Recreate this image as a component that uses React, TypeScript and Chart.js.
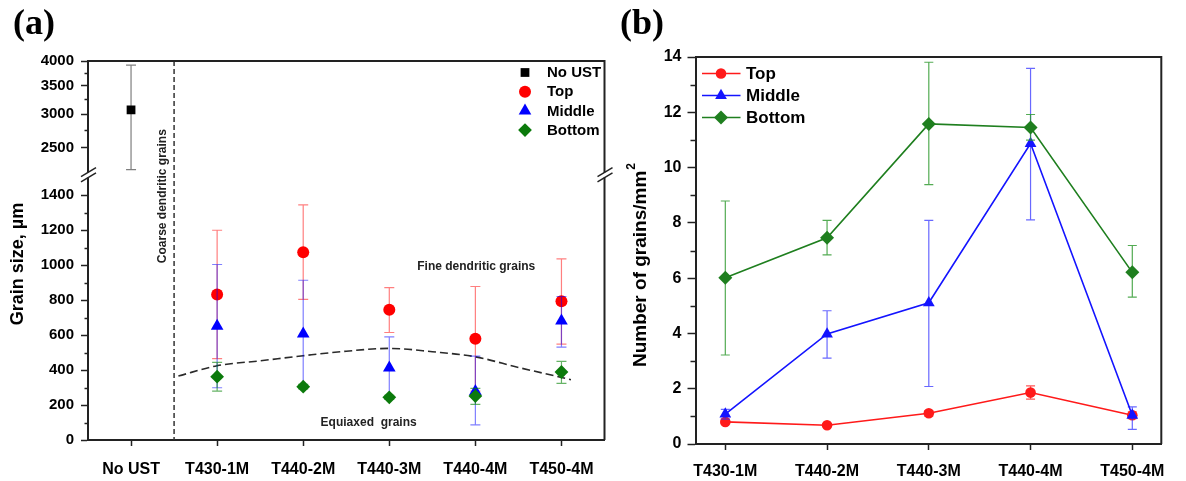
import React, { useEffect, useRef } from "react";
import { Chart, registerables } from "chart.js";

Chart.register(...registerables);

const FONT = "'Liberation Sans', Arial, Helvetica, sans-serif";
const SERIF = "'Liberation Serif', 'Times New Roman', serif";

// ---------------- Panel (a): grain size, µm ----------------
const categoriesA = ["No UST", "T430-1M", "T440-2M", "T440-3M", "T440-4M", "T450-4M"];
const noUstSize = [3067];
const noUstLow = [2218];
const noUstHigh = [3913];
const topSize = [832, 1074, 745, 579, 794];
const topSizeLow = [465, 804, 615, 280, 549];
const topSizeHigh = [1200, 1345, 872, 878, 1036];
const middleSize = [652, 607, 413, 278, 682];
const middleSizeLow = [299, 300, 240, 86, 531];
const middleSizeHigh = [1004, 914, 590, 480, 821];
const bottomSize = [362, 305, 244, 251, 389];
const bottomSizeLow = [280, 292, 232, 204, 324];
const bottomSizeHigh = [444, 318, 256, 295, 450];
const boundaryPos = [0.55, 1, 1.5, 2, 2.5, 3, 3.5, 4, 4.5, 5, 5.11];
const boundarySize = [366, 425, 453, 482, 508, 524, 505, 476, 415, 358, 345];
const lowerTicksA = [0, 200, 400, 600, 800, 1000, 1200, 1400];
const lowerMinorA = [100, 300, 500, 700, 900, 1100, 1300];
const upperTicksA = [2500, 3000, 3500, 4000];
const upperMinorA = [2750, 3250, 3750];

// ---------------- Panel (b): number of grains / mm² ----------------
const categoriesB = ["T430-1M", "T440-2M", "T440-3M", "T440-4M", "T450-4M"];
const topCount = [0.8, 0.68, 1.11, 1.86, 1.04];
const topCountLow = [0.74, 0.63, 1.01, 1.62, 0.92];
const topCountHigh = [0.86, 0.73, 1.21, 2.1, 1.16];
const middleCount = [1.08, 3.98, 5.11, 10.87, 1.04];
const middleCountLow = [0.9, 3.11, 2.08, 8.11, 0.53];
const middleCountHigh = [1.25, 4.82, 8.09, 13.59, 1.34];
const bottomCount = [6.01, 7.46, 11.58, 11.45, 6.21];
const bottomCountLow = [3.22, 6.84, 9.38, 10.99, 5.31];
const bottomCountHigh = [8.79, 8.09, 13.81, 11.92, 7.18];
const ticksB = [0, 2, 4, 6, 8, 10, 12, 14];
const minorB = [1, 3, 5, 7, 9, 11, 13];

const RED = "#ff0000";
const BLUE = "#0000ff";
const GREEN = "#0b7a0b";
const AXIS = "#222222";

function drawMarker(ctx: CanvasRenderingContext2D, style: string, x: number, y: number, r: number, color: string) {
  ctx.save();
  ctx.fillStyle = color;
  ctx.beginPath();
  if (style === "circle") {
    ctx.arc(x, y, r, 0, Math.PI * 2);
  } else if (style === "rect") {
    const h = r * Math.SQRT1_2;
    ctx.rect(x - h, y - h, 2 * h, 2 * h);
  } else if (style === "triangle") {
    for (let k = 0; k < 3; k++) {
      const a = (k * 2 * Math.PI) / 3;
      const px = x + Math.sin(a) * r;
      const py = y - Math.cos(a) * r;
      if (k === 0) ctx.moveTo(px, py);
      else ctx.lineTo(px, py);
    }
    ctx.closePath();
  } else {
    ctx.moveTo(x, y - r);
    ctx.lineTo(x + r, y);
    ctx.lineTo(x, y + r);
    ctx.lineTo(x - r, y);
    ctx.closePath();
  }
  ctx.fill();
  ctx.restore();
}

const errorBarPlugin = {
  id: "errorBars",
  beforeDatasetDraw(chart: any, args: any) {
    const ds = chart.data.datasets[args.index];
    const eb = ds.errorBars;
    if (!eb) return;
    const meta = chart.getDatasetMeta(args.index);
    const yScale = chart.scales[meta.yAxisID];
    const ctx = chart.ctx as CanvasRenderingContext2D;
    ctx.save();
    ctx.strokeStyle = eb.color;
    ctx.lineWidth = eb.width || 1.2;
    meta.data.forEach((pt: any, i: number) => {
      const x = pt.x;
      const yl = yScale.getPixelForValue(eb.low[i]);
      const yh = yScale.getPixelForValue(eb.high[i]);
      const c = eb.cap || 4;
      ctx.beginPath();
      ctx.moveTo(x, yl);
      ctx.lineTo(x, yh);
      ctx.moveTo(x - c, yl);
      ctx.lineTo(x + c, yl);
      ctx.moveTo(x - c, yh);
      ctx.lineTo(x + c, yh);
      ctx.stroke();
    });
    ctx.restore();
  },
};

function drawBreak(ctx: CanvasRenderingContext2D, x: number, y: number) {
  ctx.save();
  ctx.fillStyle = "#ffffff";
  ctx.fillRect(x - 3, y - 2.5, 6, 5);
  ctx.strokeStyle = AXIS;
  ctx.lineWidth = 1.5;
  for (const d of [-2.6, 2.6]) {
    ctx.beginPath();
    ctx.moveTo(x - 7, y + d + 4.2);
    ctx.lineTo(x + 8, y + d - 4.8);
    ctx.stroke();
  }
  ctx.restore();
}

function drawMinorTicks(ctx: CanvasRenderingContext2D, scale: any, values: number[], x: number, len: number) {
  ctx.save();
  ctx.strokeStyle = AXIS;
  ctx.lineWidth = 1.5;
  for (const v of values) {
    const y = Math.round(scale.getPixelForValue(v)) + 0.5;
    ctx.beginPath();
    ctx.moveTo(x - len, y);
    ctx.lineTo(x, y);
    ctx.stroke();
  }
  ctx.restore();
}

function drawFrame(ctx: CanvasRenderingContext2D, ca: any) {
  ctx.save();
  ctx.strokeStyle = AXIS;
  ctx.lineWidth = 2;
  ctx.beginPath();
  ctx.moveTo(ca.left, ca.top);
  ctx.lineTo(ca.right, ca.top);
  ctx.lineTo(ca.right, ca.bottom);
  ctx.stroke();
  ctx.restore();
}

const panelAPlugin = {
  id: "panelA",
  beforeDatasetsDraw(chart: any) {
    const { ctx, chartArea: ca, scales } = chart;
    const xs = scales.x;
    const yl = scales.yLow;
    const xd = xs.getPixelForValue(0.5);
    ctx.save();
    ctx.setLineDash([5, 3]);
    ctx.strokeStyle = "#333";
    ctx.lineWidth = 1.5;
    ctx.beginPath();
    ctx.moveTo(xd, ca.top);
    ctx.lineTo(xd, ca.bottom);
    ctx.stroke();
    ctx.setLineDash([]);
    ctx.fillStyle = "#222";
    ctx.font = `bold 12px ${FONT}`;
    ctx.textAlign = "center";
    ctx.textBaseline = "middle";
    ctx.fillText("Fine dendritic grains", xs.getPixelForValue(4.01), yl.getPixelForValue(990));
    ctx.fillText("Equiaxed  grains", xs.getPixelForValue(2.76), yl.getPixelForValue(97));
    ctx.save();
    ctx.translate(xs.getPixelForValue(0.37), yl.getPixelForValue(1395));
    ctx.rotate(-Math.PI / 2);
    ctx.fillText("Coarse dendritic grains", 0, 0);
    ctx.restore();
    ctx.restore();
  },
  afterDraw(chart: any) {
    const { ctx, chartArea: ca, scales } = chart;
    drawFrame(ctx, ca);
    drawMinorTicks(ctx, scales.yLow, lowerMinorA, ca.left, 3.5);
    drawMinorTicks(ctx, scales.yHigh, upperMinorA, ca.left, 3.5);
    const yb = scales.yHigh.bottom;
    drawBreak(ctx, ca.left, yb);
    drawBreak(ctx, ca.right, yb);
    // legend
    ctx.save();
    ctx.font = `bold 15px ${FONT}`;
    ctx.fillStyle = "#000";
    ctx.textAlign = "left";
    ctx.textBaseline = "middle";
    let row = 0;
    chart.data.datasets.forEach((ds: any) => {
      if (!ds.inLegend) return;
      const y = ca.top + 11.5 + row * 19.2;
      drawMarker(ctx, ds.pointStyle, ca.right - 79.5, y, ds.pointRadius, ds.backgroundColor);
      ctx.fillText(ds.label, ca.right - 57.5, y + 0.5);
      row++;
    });
    // axis title
    ctx.font = `bold 18px ${FONT}`;
    ctx.textAlign = "center";
    ctx.translate(18, 264);
    ctx.rotate(-Math.PI / 2);
    ctx.fillText("Grain size, \u00b5m", 0, 0);
    ctx.restore();
    ctx.save();
    ctx.font = `bold 36px ${SERIF}`;
    ctx.fillStyle = "#000";
    ctx.textBaseline = "middle";
    ctx.textAlign = "left";
    ctx.fillText("(a)", 13, 25);
    ctx.restore();
  },
};

const panelBPlugin = {
  id: "panelB",
  afterDraw(chart: any) {
    const { ctx, chartArea: ca, scales } = chart;
    drawFrame(ctx, ca);
    drawMinorTicks(ctx, scales.y, minorB, ca.left, 5);
    ctx.save();
    ctx.font = `bold 17px ${FONT}`;
    ctx.textAlign = "left";
    ctx.textBaseline = "middle";
    let row = 0;
    chart.data.datasets.forEach((ds: any) => {
      const y = ca.top + 16.5 + row * 22;
      ctx.strokeStyle = ds.borderColor;
      ctx.lineWidth = 1.5;
      ctx.beginPath();
      ctx.moveTo(ca.left + 6.5, y);
      ctx.lineTo(ca.left + 45, y);
      ctx.stroke();
      drawMarker(ctx, ds.pointStyle, ca.left + 25.5, y, ds.pointRadius, ds.backgroundColor);
      ctx.fillStyle = "#000";
      ctx.fillText(ds.label, ca.left + 50.5, y + 0.5);
      row++;
    });
    // axis title with superscript
    ctx.translate(31, 265);
    ctx.rotate(-Math.PI / 2);
    ctx.font = `bold 19px ${FONT}`;
    const main = "Number of grains/mm";
    const wMain = ctx.measureText(main).width;
    ctx.font = `bold 12px ${FONT}`;
    const wSup = ctx.measureText("2").width;
    const start = -(wMain + wSup + 1) / 2;
    ctx.font = `bold 19px ${FONT}`;
    ctx.fillText(main, start, 0);
    ctx.font = `bold 12px ${FONT}`;
    ctx.fillText("2", start + wMain + 1, -9);
    ctx.restore();
    ctx.save();
    ctx.font = `bold 36px ${SERIF}`;
    ctx.fillStyle = "#000";
    ctx.textBaseline = "middle";
    ctx.fillText("(b)", 10, 25);
    ctx.restore();
  },
};

const tickFont = (size: number) => ({ family: FONT, size, weight: "bold" as const });

function configA(): any {
  return {
    type: "scatter",
    data: {
      datasets: [
        {
          label: "No UST",
          inLegend: true,
          data: noUstSize.map((v) => ({ x: 0, y: v })),
          yAxisID: "yHigh",
          pointStyle: "rect",
          pointRadius: 6.2,
          backgroundColor: "#000000",
          borderWidth: 0,
          errorBars: { low: noUstLow, high: noUstHigh, color: "rgba(0,0,0,0.5)", cap: 5 },
          order: 4,
        },
        {
          label: "Top",
          inLegend: true,
          data: topSize.map((v, i) => ({ x: i + 1, y: v })),
          yAxisID: "yLow",
          pointStyle: "circle",
          pointRadius: 6,
          backgroundColor: RED,
          borderWidth: 0,
          errorBars: { low: topSizeLow, high: topSizeHigh, color: "rgba(255,0,0,0.5)", cap: 5 },
          order: 3,
        },
        {
          label: "Middle",
          inLegend: true,
          data: middleSize.map((v, i) => ({ x: i + 1, y: v })),
          yAxisID: "yLow",
          pointStyle: "triangle",
          pointRadius: 7.3,
          backgroundColor: BLUE,
          borderWidth: 0,
          errorBars: { low: middleSizeLow, high: middleSizeHigh, color: "rgba(0,0,255,0.5)", cap: 5 },
          order: 2,
        },
        {
          label: "Bottom",
          inLegend: true,
          data: bottomSize.map((v, i) => ({ x: i + 1, y: v })),
          yAxisID: "yLow",
          pointStyle: "rectRot",
          pointRadius: 6.9,
          backgroundColor: GREEN,
          borderWidth: 0,
          errorBars: { low: bottomSizeLow, high: bottomSizeHigh, color: "rgba(0,128,0,0.6)", cap: 5 },
          order: 1,
        },
        {
          label: "boundary",
          type: "line",
          data: boundaryPos.map((p, i) => ({ x: p, y: boundarySize[i] })),
          yAxisID: "yLow",
          showLine: true,
          borderColor: "#2a2a2a",
          borderWidth: 1.6,
          borderDash: [8, 4],
          pointRadius: 0,
          tension: 0.4,
          cubicInterpolationMode: "monotone",
          fill: false,
          order: 10,
        },
      ],
    },
    options: {
      animation: false,
      responsive: false,
      events: [],
      layout: { padding: { top: 61, right: 11.5, left: 0, bottom: 0 } },
      plugins: { legend: { display: false }, tooltip: { enabled: false } },
      scales: {
        x: {
          type: "linear",
          min: -0.5,
          max: 5.5,
          afterBuildTicks: (s: any) => {
            s.ticks = categoriesA.map((_, i) => ({ value: i }));
          },
          afterFit: (s: any) => {
            s.height = 41;
          },
          ticks: {
            callback: (v: number) => categoriesA[v] ?? "",
            font: tickFont(16),
            color: "#000",
            padding: 14,
            maxRotation: 0,
            autoSkip: false,
          },
          grid: { drawOnChartArea: false, drawTicks: true, tickLength: 6, color: AXIS, tickWidth: 1.5 },
          border: { display: true, color: AXIS, width: 2 },
        },
        yLow: {
          type: "linear",
          position: "left",
          stack: "grain",
          stackWeight: 265,
          min: 0,
          max: 1516,
          afterBuildTicks: (s: any) => {
            s.ticks = lowerTicksA.map((v) => ({ value: v }));
          },
          afterFit: (s: any) => {
            s.width = 88;
          },
          ticks: { callback: (v: number) => String(v), font: tickFont(15), color: "#000", padding: 7, autoSkip: false },
          grid: { drawOnChartArea: false, drawTicks: true, tickLength: 7, color: AXIS, tickWidth: 1.5 },
          border: { display: true, color: AXIS, width: 2 },
        },
        yHigh: {
          type: "logarithmic",
          position: "left",
          stack: "grain",
          stackWeight: 114,
          min: 2155,
          max: 4000,
          afterBuildTicks: (s: any) => {
            s.ticks = upperTicksA.map((v) => ({ value: v }));
          },
          afterFit: (s: any) => {
            s.width = 88;
          },
          ticks: { callback: (v: number) => String(v), font: tickFont(15), color: "#000", padding: 7, autoSkip: false },
          grid: { drawOnChartArea: false, drawTicks: true, tickLength: 7, color: AXIS, tickWidth: 1.5 },
          border: { display: true, color: AXIS, width: 2 },
        },
      },
    },
    plugins: [errorBarPlugin, panelAPlugin],
  };
}

function configB(): any {
  const mk = (label: string, vals: number[], lo: number[], hi: number[], color: string, errColor: string, style: string, r: number, order: number) => ({
    label,
    data: vals.map((v, i) => ({ x: i, y: v })),
    showLine: true,
    borderColor: color,
    borderWidth: 1.6,
    backgroundColor: color,
    pointStyle: style,
    pointRadius: r,
    pointBorderWidth: 0,
    errorBars: { low: lo, high: hi, color: errColor, cap: 4.5 },
    order,
  });
  return {
    type: "scatter",
    data: {
      datasets: [
        mk("Top", topCount, topCountLow, topCountHigh, "#ff1a1a", "rgba(255,30,30,0.75)", "circle", 5.3, 3),
        mk("Middle", middleCount, middleCountLow, middleCountHigh, "#1414ff", "rgba(40,40,255,0.7)", "triangle", 6.8, 2),
        mk("Bottom", bottomCount, bottomCountLow, bottomCountHigh, "#1f7f1f", "rgba(40,150,40,0.8)", "rectRot", 7, 1),
      ],
    },
    options: {
      animation: false,
      responsive: false,
      events: [],
      layout: { padding: { top: 57, right: 24.7, left: 0, bottom: 0 } },
      plugins: { legend: { display: false }, tooltip: { enabled: false } },
      scales: {
        x: {
          type: "linear",
          min: -0.293,
          max: 4.285,
          afterBuildTicks: (s: any) => {
            s.ticks = categoriesB.map((_, i) => ({ value: i }));
          },
          afterFit: (s: any) => {
            s.height = 37;
          },
          ticks: {
            callback: (v: number) => categoriesB[v] ?? "",
            font: tickFont(16),
            color: "#000",
            padding: 12,
            maxRotation: 0,
            autoSkip: false,
          },
          grid: { drawOnChartArea: false, drawTicks: true, tickLength: 6, color: AXIS, tickWidth: 1.5 },
          border: { display: true, color: AXIS, width: 2 },
        },
        y: {
          type: "linear",
          min: 0,
          max: 14,
          afterBuildTicks: (s: any) => {
            s.ticks = ticksB.map((v) => ({ value: v }));
          },
          afterFit: (s: any) => {
            s.width = 85.5;
          },
          ticks: { callback: (v: number) => String(v), font: tickFont(16), color: "#000", padding: 6, autoSkip: false },
          grid: { drawOnChartArea: false, drawTicks: true, tickLength: 8, color: AXIS, tickWidth: 1.5 },
          border: { display: true, color: AXIS, width: 2 },
        },
      },
    },
    plugins: [errorBarPlugin, panelBPlugin],
  };
}

export default function App() {
  const refA = useRef<HTMLCanvasElement>(null);
  const refB = useRef<HTMLCanvasElement>(null);
  useEffect(() => {
    const a = new Chart(refA.current as HTMLCanvasElement, configA());
    const b = new Chart(refB.current as HTMLCanvasElement, configB());
    return () => {
      a.destroy();
      b.destroy();
    };
  }, []);
  return (
    <div style={{ position: "absolute", left: 0, top: 0, width: 1186, height: 481, background: "#ffffff", overflow: "hidden" }}>
      <canvas ref={refB} width={576} height={481} style={{ position: "absolute", left: 610, top: 0 }} />
      <canvas ref={refA} width={616} height={481} style={{ position: "absolute", left: 0, top: 0 }} />
    </div>
  );
}
